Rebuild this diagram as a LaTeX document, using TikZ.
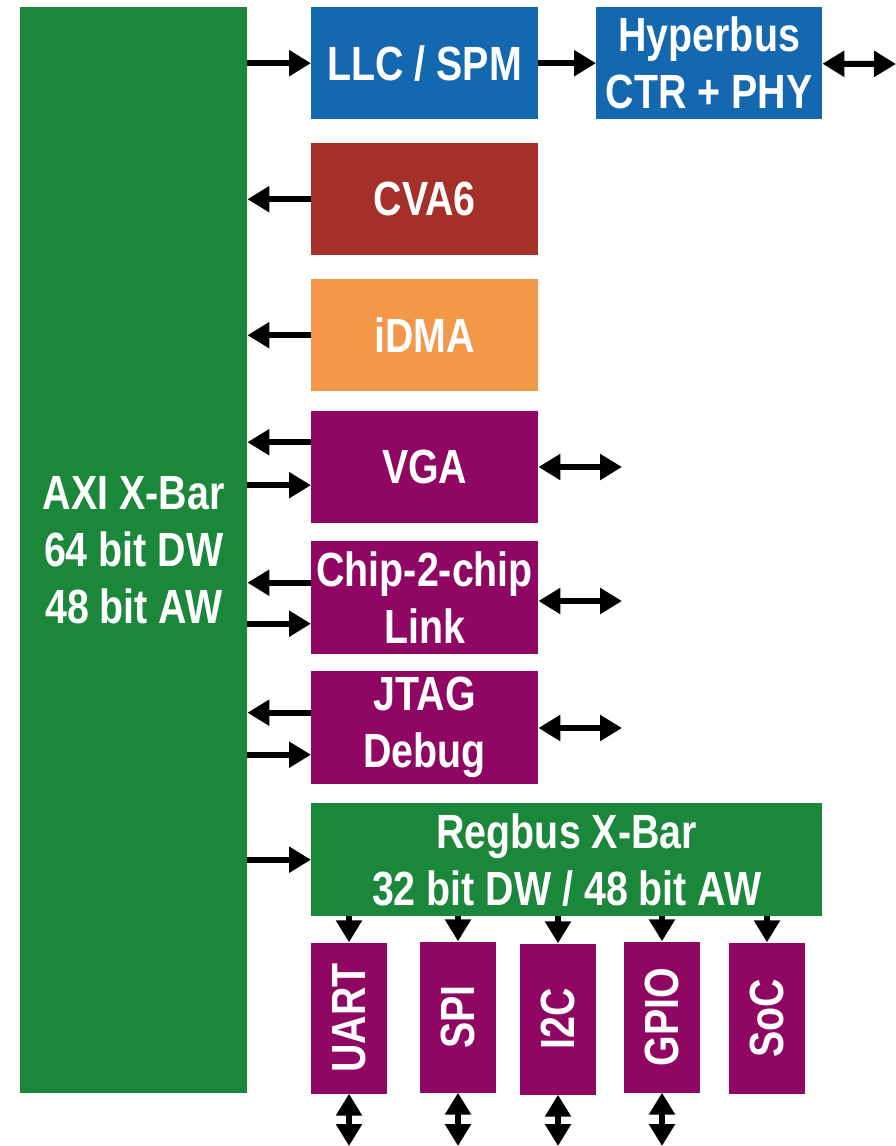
\documentclass[tikz,border=0pt]{standalone}
\usepackage{fontspec}
\setmainfont{Liberation Sans}[FakeStretch=0.82]
\usetikzlibrary{arrows.meta,calc}
\definecolor{axigreen}{RGB}{26,135,58}
\definecolor{memblue}{RGB}{20,104,176}
\definecolor{corered}{RGB}{165,48,42}
\definecolor{dmaorange}{RGB}{242,152,72}
\definecolor{periphpurple}{RGB}{143,7,99}
\begin{document}
\begin{tikzpicture}[x=1pt,y=-1pt,
  block/.style={inner sep=0pt, text=white, font=\bfseries\fontsize{48}{57}\selectfont, align=center},
  wide/.style={block, anchor=north west, minimum width=227pt, minimum height=112pt},
  small/.style={block, fill=periphpurple, minimum width=76pt, minimum height=151pt},
  arr/.style={line width=6pt, -{Triangle[length=22pt,width=25pt]}},
  biarr/.style={line width=6pt, {Triangle[length=22pt,width=25pt]}-{Triangle[length=22pt,width=25pt]}}]
\useasboundingbox (0,0) rectangle (896,1146);
\node[block, fill=axigreen, anchor=north west, minimum width=227pt, minimum height=1086pt] (axi) at (20,7) {AXI X-Bar\\64 bit DW\\48 bit AW};
\node[wide, fill=memblue] (llc) at (311,7) {LLC / SPM};
\node[wide, fill=memblue, minimum width=226pt] (hyper) at (596,7) {Hyperbus\\CTR + PHY};
\node[wide, fill=corered] (cva6) at (311,143) {CVA6};
\node[wide, fill=dmaorange] (idma) at (311,279) {iDMA};
\node[wide, fill=periphpurple] (vga) at (311,411) {VGA};
\node[wide, fill=periphpurple, minimum height=113pt] (c2c) at (311,541) {Chip-2-chip\\Link};
\node[wide, fill=periphpurple, minimum height=113pt] (jtag) at (311,671) {JTAG\\Debug};
\node[wide, fill=axigreen, minimum width=511pt, minimum height=113pt] (regbus) at (311,803) {Regbus X-Bar\\32 bit DW / 48 bit AW};
\node[small] (uart) at (349,1018) {\rotatebox{90}{UART}};
\node[small] (spi) at (458,1017) {\rotatebox{90}{SPI}};
\node[small] (i2c) at (558,1019) {\rotatebox{90}{I2C}};
\node[small] (gpio) at (662,1017) {\rotatebox{90}{GPIO}};
\node[small] (soc) at (767,1018) {\rotatebox{90}{SoC}};
\coordinate (hyperout) at (896,64);
\coordinate (vgaout) at (622,467);
\coordinate (c2cout) at (622,601);
\coordinate (jtagout) at (622,728);
\coordinate (uartout) at (349,1146);
\coordinate (spiout) at (458,1146);
\coordinate (i2cout) at (558,1146);
\coordinate (gpioout) at (662,1146);
\draw[arr] (axi.east |- llc.west) -- (llc.west);
\draw[arr] (llc) -- (hyper);
\draw[biarr] (hyper) -- (hyperout);
\draw[arr] (cva6) -- (axi.east |- cva6.west);
\draw[arr] (idma) -- (axi.east |- idma.west);
\draw[arr] ($(vga.west)+(0,-25)$) -- ($(axi.east |- vga.west)+(0,-25)$);
\draw[arr] ($(axi.east |- vga.west)+(0,18)$) -- ($(vga.west)+(0,18)$);
\draw[biarr] (vga.east |- vgaout) -- (vgaout);
\draw[arr] ($(c2c.west)+(0,-15)$) -- ($(axi.east |- c2c.west)+(0,-15)$);
\draw[arr] ($(axi.east |- c2c.west)+(0,26)$) -- ($(c2c.west)+(0,26)$);
\draw[biarr] (c2c.east |- c2cout) -- (c2cout);
\draw[arr] ($(jtag.west)+(0,-15)$) -- ($(axi.east |- jtag.west)+(0,-15)$);
\draw[arr] ($(axi.east |- jtag.west)+(0,27)$) -- ($(jtag.west)+(0,27)$);
\draw[biarr] (jtag.east |- jtagout) -- (jtagout);
\draw[arr] (axi.east |- regbus.west) -- (regbus.west);
\draw[arr] (regbus.south -| uart.north) -- (uart.north);
\draw[arr] (regbus.south -| spi.north) -- (spi.north);
\draw[arr] (regbus.south -| i2c.north) -- (i2c.north);
\draw[arr] (regbus.south -| gpio.north) -- (gpio.north);
\draw[arr] (regbus.south -| soc.north) -- (soc.north);
\draw[biarr] (uart.south) -- (uartout);
\draw[biarr] (spi.south) -- (spiout);
\draw[biarr] (i2c.south) -- (i2cout);
\draw[biarr] (gpio.south) -- (gpioout);
\end{tikzpicture}
\end{document}
